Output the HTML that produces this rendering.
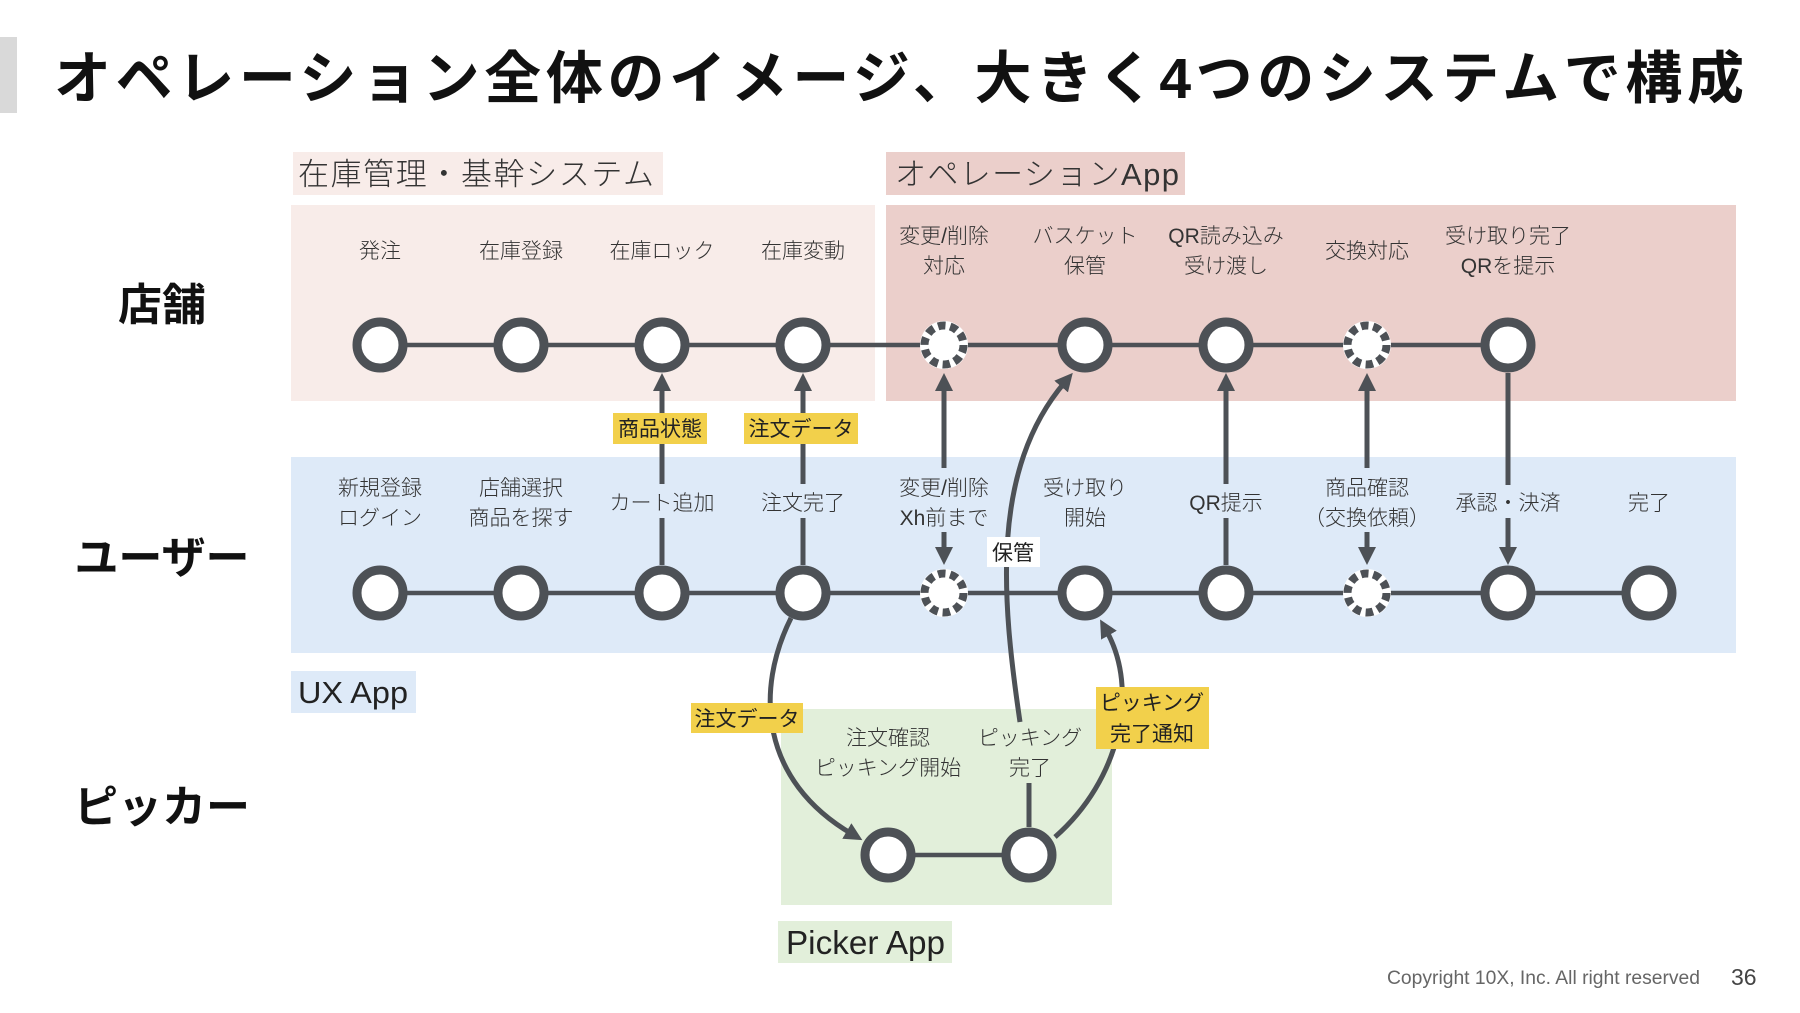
<!DOCTYPE html>
<html>
<head>
<meta charset="utf-8">
<style>
html,body{margin:0;padding:0;background:#fff;}
body{width:1800px;height:1013px;overflow:hidden;}
svg{display:block;}
text{font-family:"Liberation Sans","Noto Sans CJK JP",sans-serif;}
.lb{font-size:21px;fill:#333;font-weight:300;}
.tg{font-size:21px;fill:#222;font-weight:400;}
.hd{font-size:31px;fill:#333;font-weight:300;}
.rh{font-size:44px;fill:#111;font-weight:700;}
</style>
</head>
<body>
<svg width="1800" height="1013" viewBox="0 0 1800 1013" xmlns="http://www.w3.org/2000/svg">
<defs>
<marker id="ah" markerUnits="userSpaceOnUse" markerWidth="20" markerHeight="20" refX="6" refY="9" orient="auto">
<path d="M0,0 L18,9 L0,18 z" fill="#4d5156"/>
</marker>
</defs>

<!-- title -->
<rect x="0" y="37" width="17" height="76" fill="#d9d9d9"/>
<text x="54" y="98" font-size="57" font-weight="700" fill="#111" textLength="1690" lengthAdjust="spacing">オペレーション全体のイメージ、大きく4つのシステムで構成</text>

<!-- bands -->
<rect x="291" y="205" width="584" height="196" fill="#f8ece9"/>
<rect x="886" y="205" width="850" height="196" fill="#ebcfcb"/>
<rect x="291" y="457" width="1445" height="196" fill="#deeaf8"/>
<rect x="781" y="709" width="331" height="196" fill="#e2efda"/>

<!-- headers -->
<rect x="293" y="152" width="370" height="43" fill="#f8ece9"/>
<text class="hd" x="298" y="185" textLength="356" lengthAdjust="spacing">在庫管理・基幹システム</text>
<rect x="886" y="152" width="299" height="43" fill="#ebcfcb"/>
<text class="hd" x="895" y="185" textLength="284" lengthAdjust="spacing">オペレーションApp</text>
<rect x="291" y="671" width="125" height="42" fill="#deeaf8"/>
<text x="298" y="703" font-size="31" fill="#222" textLength="110" lengthAdjust="spacingAndGlyphs">UX App</text>
<rect x="778" y="921" width="174" height="42" fill="#e2efda"/>
<text x="786" y="954" font-size="33" fill="#222" textLength="159" lengthAdjust="spacingAndGlyphs">Picker App</text>

<!-- row headers -->
<text class="rh" x="162" y="320" text-anchor="middle">店舗</text>
<text class="rh" x="162" y="573" text-anchor="middle">ユーザー</text>
<text class="rh" x="162" y="822" text-anchor="middle">ピッカー</text>

<!-- horizontal connectors -->
<g stroke="#4d5156" stroke-width="4.5" fill="none">
<line x1="380" y1="345" x2="1508" y2="345"/>
<line x1="380" y1="593" x2="1649" y2="593"/>
<line x1="888" y1="855" x2="1029" y2="855"/>
</g>

<!-- vertical connectors -->
<g stroke="#4d5156" stroke-width="5" fill="none">
<!-- i2 -->
<line x1="662" y1="565" x2="662" y2="518"/>
<line x1="662" y1="484" x2="662" y2="388"/>
<!-- i3 -->
<line x1="803" y1="565" x2="803" y2="518"/>
<line x1="803" y1="484" x2="803" y2="388"/>
<!-- i4 -->
<line x1="944" y1="468" x2="944" y2="388"/>
<line x1="944" y1="532" x2="944" y2="550"/>
<!-- i6 -->
<line x1="1226" y1="565" x2="1226" y2="518"/>
<line x1="1226" y1="484" x2="1226" y2="388"/>
<!-- i7 -->
<line x1="1367" y1="468" x2="1367" y2="388"/>
<line x1="1367" y1="532" x2="1367" y2="550"/>
<!-- i8 -->
<line x1="1508" y1="373" x2="1508" y2="485"/>
<line x1="1508" y1="518" x2="1508" y2="550"/>
<!-- picker -->
<line x1="1029" y1="827" x2="1029" y2="783"/>
</g>
<g fill="#4d5156">
<polygon points="662,373 653,391 671,391"/>
<polygon points="803,373 794,391 812,391"/>
<polygon points="944,373 935,391 953,391"/>
<polygon points="944,565 935,547 953,547"/>
<polygon points="1226,373 1217,391 1235,391"/>
<polygon points="1367,373 1358,391 1376,391"/>
<polygon points="1367,565 1358,547 1376,547"/>
<polygon points="1508,565 1499,547 1517,547"/>
</g>

<!-- curves -->
<g stroke="#4d5156" stroke-width="5" fill="none">
<path d="M 791 618 C 755 690, 760 780, 852 834" marker-end="url(#ah)"/>
<path d="M 1020 722 C 1002 600, 990 470, 1065 382" marker-end="url(#ah)"/>
<path d="M 1055 837 C 1120 780, 1140 690, 1106 630" marker-end="url(#ah)"/>
</g>

<!-- nodes -->
<g fill="#fff" stroke="#4d5156" stroke-width="9">
<circle cx="380" cy="345" r="23"/>
<circle cx="521" cy="345" r="23"/>
<circle cx="662" cy="345" r="23"/>
<circle cx="803" cy="345" r="23"/>
<circle cx="1085" cy="345" r="23"/>
<circle cx="1226" cy="345" r="23"/>
<circle cx="1508" cy="345" r="23"/>

<circle cx="380" cy="593" r="23"/>
<circle cx="521" cy="593" r="23"/>
<circle cx="662" cy="593" r="23"/>
<circle cx="803" cy="593" r="23"/>
<circle cx="1085" cy="593" r="23"/>
<circle cx="1226" cy="593" r="23"/>
<circle cx="1508" cy="593" r="23"/>
<circle cx="1649" cy="593" r="23"/>

<circle cx="888" cy="855" r="23"/>
<circle cx="1029" cy="855" r="23"/>
</g>
<!-- dashed nodes -->
<g>
<circle cx="944" cy="345" r="24" fill="#fff"/>
<circle cx="944" cy="345" r="19.5" fill="none" stroke="#4d5156" stroke-width="8" stroke-dasharray="7.5 4.75"/>
<circle cx="1367" cy="345" r="24" fill="#fff"/>
<circle cx="1367" cy="345" r="19.5" fill="none" stroke="#4d5156" stroke-width="8" stroke-dasharray="7.5 4.75"/>
<circle cx="944" cy="593" r="24" fill="#fff"/>
<circle cx="944" cy="593" r="19.5" fill="none" stroke="#4d5156" stroke-width="8" stroke-dasharray="7.5 4.75"/>
<circle cx="1367" cy="593" r="24" fill="#fff"/>
<circle cx="1367" cy="593" r="19.5" fill="none" stroke="#4d5156" stroke-width="8" stroke-dasharray="7.5 4.75"/>
</g>

<!-- tags -->
<rect x="613" y="413" width="94" height="31" fill="#f2d04b"/>
<text class="tg" x="660" y="436" text-anchor="middle">商品状態</text>
<rect x="744" y="413" width="114" height="31" fill="#f2d04b"/>
<text class="tg" x="801" y="436" text-anchor="middle">注文データ</text>
<rect x="691" y="703" width="112" height="30" fill="#f2d04b"/>
<text class="tg" x="747" y="726" text-anchor="middle">注文データ</text>
<rect x="1096" y="687" width="113" height="62" fill="#f2d04b"/>
<text class="tg" x="1152" y="710" text-anchor="middle">ピッキング</text>
<text class="tg" x="1152" y="741" text-anchor="middle">完了通知</text>
<rect x="987" y="537" width="53" height="30" fill="#fff"/>
<text class="tg" x="1013" y="560" text-anchor="middle">保管</text>

<!-- row 1 labels -->
<g class="lb" text-anchor="middle">
<text class="lb" x="380" y="258" text-anchor="middle">発注</text>
<text class="lb" x="521" y="258" text-anchor="middle">在庫登録</text>
<text class="lb" x="662" y="258" text-anchor="middle">在庫ロック</text>
<text class="lb" x="803" y="258" text-anchor="middle">在庫変動</text>
<text class="lb" x="944" y="243" text-anchor="middle">変更/削除</text>
<text class="lb" x="944" y="273" text-anchor="middle">対応</text>
<text class="lb" x="1085" y="243" text-anchor="middle">バスケット</text>
<text class="lb" x="1085" y="273" text-anchor="middle">保管</text>
<text class="lb" x="1226" y="243" text-anchor="middle">QR読み込み</text>
<text class="lb" x="1226" y="273" text-anchor="middle">受け渡し</text>
<text class="lb" x="1367" y="258" text-anchor="middle">交換対応</text>
<text class="lb" x="1508" y="243" text-anchor="middle">受け取り完了</text>
<text class="lb" x="1508" y="273" text-anchor="middle">QRを提示</text>

<!-- row 2 labels -->
<text class="lb" x="380" y="495" text-anchor="middle">新規登録</text>
<text class="lb" x="380" y="525" text-anchor="middle">ログイン</text>
<text class="lb" x="521" y="495" text-anchor="middle">店舗選択</text>
<text class="lb" x="521" y="525" text-anchor="middle">商品を探す</text>
<text class="lb" x="662" y="510" text-anchor="middle">カート追加</text>
<text class="lb" x="803" y="510" text-anchor="middle">注文完了</text>
<text class="lb" x="944" y="495" text-anchor="middle">変更/削除</text>
<text class="lb" x="944" y="525" text-anchor="middle">Xh前まで</text>
<text class="lb" x="1085" y="495" text-anchor="middle">受け取り</text>
<text class="lb" x="1085" y="525" text-anchor="middle">開始</text>
<text class="lb" x="1226" y="510" text-anchor="middle">QR提示</text>
<text class="lb" x="1367" y="495" text-anchor="middle">商品確認</text>
<text class="lb" x="1367" y="525" text-anchor="middle">（交換依頼）</text>
<text class="lb" x="1508" y="510" text-anchor="middle">承認・決済</text>
<text class="lb" x="1649" y="510" text-anchor="middle">完了</text>

<!-- picker labels -->
<text class="lb" x="888" y="745" text-anchor="middle">注文確認</text>
<text class="lb" x="888" y="775" text-anchor="middle">ピッキング開始</text>
<text class="lb" x="1030" y="745" text-anchor="middle">ピッキング</text>
<text class="lb" x="1030" y="775" text-anchor="middle">完了</text>
</g>

<!-- footer -->
<text x="1387" y="984" font-size="19" fill="#666" textLength="313" lengthAdjust="spacingAndGlyphs">Copyright 10X, Inc. All right reserved</text>
<text x="1731" y="985" font-size="23" fill="#444">36</text>
</svg>
</body>
</html>
